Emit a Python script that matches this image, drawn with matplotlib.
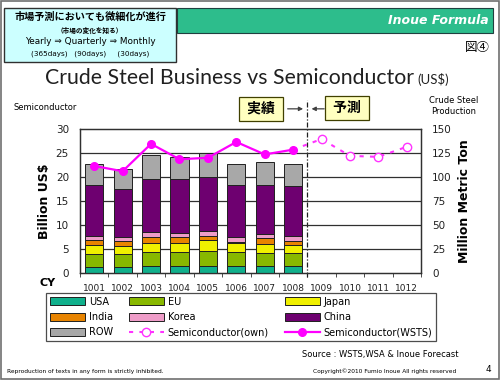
import numpy as np
import matplotlib
matplotlib.use('Agg')
from matplotlib import pyplot as plt
from matplotlib.patches import Rectangle, Patch
from matplotlib.lines import Line2D

plt.rcParams['font.family'] = ['DejaVu Sans', 'Noto Sans CJK JP']

months = ['1001', '1002', '1003', '1004', '1005', '1006',
          '1007', '1008', '1009', '1010', '1011', '1012']

# crude steel production, million metric ton (1001-1008)
usa = [6.3, 6.3, 7.5, 7.5, 7.5, 7.3, 7.2, 7.4]
eu = [13.2, 13.2, 14.5, 14.5, 15.8, 14.7, 13.8, 13.0]
japan = [9.3, 8.5, 9.2, 9.2, 11.0, 9.3, 9.4, 8.8]
india = [6.0, 5.5, 6.8, 6.3, 4.5, 1.2, 5.8, 4.6]
korea = [3.7, 4.0, 5.0, 4.5, 5.0, 4.5, 4.8, 4.9]
china = [53.0, 50.5, 55.0, 56.0, 56.5, 54.5, 51.0, 52.1]
row = [22.5, 20.0, 24.5, 22.5, 25.0, 22.5, 23.5, 22.8]

# semiconductor sales, billion US$
semi_wsts = [22.3, 21.2, 26.9, 23.7, 24.0, 27.3, 24.7, 25.7]
semi_own = [25.7, 27.9, 24.4, 24.2, 26.3]   # 1008 (start) .. 1012

series = [('USA', usa, '#10b08c'), ('EU', eu, '#88b800'),
          ('Japan', japan, '#f0f000'), ('India', india, '#e88400'),
          ('Korea', korea, '#ee9cc8'), ('China', china, '#6e0070'),
          ('ROW', row, '#a8a8a8')]

fig = plt.figure(figsize=(5, 3.8), dpi=100)

# slide decorations
fig.patches.append(Rectangle((0.002, 0.003), 0.995, 0.994, transform=fig.transFigure,
                             fill=False, ec='#707070', lw=1.2))
fig.patches.append(Rectangle((0.354, 1 - 33 / 380), 0.632, 25 / 380, transform=fig.transFigure,
                             fc='#2dbd8c', ec='#204040', lw=0.8))
fig.text(0.978, 1 - 20 / 380, 'Inoue Formula', color='white', fontsize=9,
         fontweight='bold', fontstyle='italic', ha='right', va='center')
fig.patches.append(Rectangle((0.008, 1 - 62 / 380), 0.344, 54 / 380, transform=fig.transFigure,
                             fc='#ccffff', ec='#303030', lw=1.0, zorder=3))
fig.text(0.18, 1 - 17 / 380, '市場予測においても微細化が進行', fontsize=7.3, fontweight='bold',
         ha='center', va='center', family=['Noto Sans CJK JP'], zorder=4)
fig.text(0.18, 1 - 30 / 380, '（市場の変化を知る）', fontsize=4.8, fontweight='bold',
         ha='center', va='center', family=['Noto Sans CJK JP'], zorder=4)
fig.text(0.18, 1 - 42 / 380, 'Yearly ⇒ Quarterly ⇒ Monthly', fontsize=6.4,
         ha='center', va='center', zorder=4)
fig.text(0.18, 1 - 54 / 380, '(365days)   (90days)     (30days)', fontsize=5.2,
         ha='center', va='center', zorder=4)
fig.text(0.955, 1 - 47 / 380, '図④', fontsize=9, ha='center', va='center',
         family=['Noto Sans CJK JP'])
fig.text(0.09, 1 - 78 / 380, 'Crude Steel Business vs Semiconductor', fontsize=15.3,
         ha='left', va='center', color='#202020', family=['Lato'])
fig.text(0.834, 1 - 80 / 380, '(US$)', fontsize=9.5, ha='left', va='center', color='#202020',
         family=['Lato'])

ax = fig.add_axes([0.16, 1 - 273 / 380, 0.682, 144 / 380])
ax2 = ax.twinx()

x = np.arange(len(months))
bottom = np.zeros(len(usa))
for name, vals, col in series:
    ax2.bar(x[:len(vals)], vals, width=0.64, bottom=bottom, color=col,
            edgecolor='#202020', linewidth=0.7, zorder=2)
    bottom += np.array(vals)

ax2.set_ylim(0, 150)
ax2.set_yticks(np.arange(0, 151, 25))
ax.set_ylim(0, 30)
ax.set_yticks(np.arange(0, 31, 5))
ax.set_xlim(-0.5, len(months) - 0.5)
for v in range(5, 30, 5):
    ax2.axhline(v * 5, color='#303030', lw=0.9, zorder=1)

# semiconductor lines drawn on top
ax3 = ax.twinx()
ax3.set_ylim(0, 30)
ax3.axis('off')
ax3.plot(x[7:], semi_own, color='#ff33ff', lw=1.5, ls=(0, (2, 3)), marker='o', ms=6,
         mfc='white', mec='#ff33ff', mew=1.0, markevery=[1, 2, 3, 4], zorder=5)
ax3.plot(x[:len(semi_wsts)], semi_wsts, color='#ff00ff', lw=1.6, marker='o', ms=5.5,
         mfc='#ff00ff', mec='#ff00ff', zorder=6)

for a in (ax, ax2):
    for s in a.spines.values():
        s.set_color('#303030')
        s.set_linewidth(0.9)
ax.set_xticks(x)
ax.set_xticklabels(months, fontsize=6.5, color='#202020')
ax.set_xticks(np.arange(-0.5, len(months), 1), minor=True)
ax.tick_params(axis='x', which='major', length=0, pad=8)
ax.tick_params(axis='x', which='minor', length=3, color='#303030')
ax.tick_params(axis='y', length=0, labelsize=7.5, pad=8, labelcolor='#202020')
ax2.tick_params(axis='y', length=0, labelsize=7.5, pad=8, labelcolor='#202020')
ax.set_ylabel('Billion US$', fontsize=9, fontweight='bold', labelpad=3)
ax2.set_ylabel('Million Metric Ton', fontsize=9, fontweight='bold', labelpad=4)

fig.text(0.028, 1 - 108 / 380, 'Semiconductor', fontsize=6, ha='left', va='center')
fig.text(0.908, 1 - 106 / 380, 'Crude Steel\nProduction', fontsize=6, ha='center',
         va='center', linespacing=1.2)
fig.text(0.096, 1 - 283 / 380, 'CY', fontsize=8, fontweight='bold', ha='center', va='center')

# actual / forecast divider
trans = ax.get_xaxis_transform()
ax.plot([7.5, 7.5], [-0.03, 1.2], transform=trans, color='#202020', lw=0.9,
        ls=(0, (4, 1.5, 1, 1.5)), clip_on=False, zorder=7)
box = dict(boxstyle='square,pad=0.35', fc='#ffffc0', ec='#404000', lw=0.9)
ax.text(5.87, 1.14, ' 実績 ', transform=trans, fontsize=10, fontweight='bold', ha='center',
        va='center', bbox=box, family=['Noto Sans CJK JP'])
ax.text(8.89, 1.145, ' 予測 ', transform=trans, fontsize=10, fontweight='bold', ha='center',
        va='center', bbox=box, family=['Noto Sans CJK JP'])
ax.annotate('', xy=(7.45, 1.14), xytext=(6.71, 1.14), xycoords=trans, textcoords=trans,
            arrowprops=dict(arrowstyle='-|>', color='#404040', lw=0.9, mutation_scale=6),
            annotation_clip=False)
ax.annotate('', xy=(7.55, 1.14), xytext=(8.19, 1.14), xycoords=trans, textcoords=trans,
            arrowprops=dict(arrowstyle='-|>', color='#404040', lw=0.9, mutation_scale=6),
            annotation_clip=False)

# legend (3 rows, filled row-wise)
h = {name: Patch(fc=col, ec='#202020', lw=0.7) for name, vals, col in series}
h_own = Line2D([], [], color='#ff33ff', lw=1.5, ls=(0, (2, 3)), marker='o', ms=6,
               mfc='white', mec='#ff33ff')
h_wsts = Line2D([], [], color='#ff00ff', lw=1.6, marker='o', ms=5.5, mfc='#ff00ff')
order = [('USA', h['USA']), ('India', h['India']), ('ROW', h['ROW']),
         ('EU', h['EU']), ('Korea', h['Korea']), ('Semiconductor(own)', h_own),
         ('Japan', h['Japan']), ('China', h['China']), ('Semiconductor(WSTS)', h_wsts)]
leg = fig.legend([o[1] for o in order], [o[0] for o in order], ncol=3, mode='expand',
                 bbox_to_anchor=(0.082, 1 - 341 / 380, 0.8, 48 / 380), loc='center',
                 fontsize=7, frameon=True, fancybox=False, handlelength=3.6,
                 handleheight=0.9, handletextpad=0.4, labelspacing=0.55,
                 borderpad=0.4, columnspacing=1.0)
leg.get_frame().set_edgecolor('#202020')
leg.get_frame().set_linewidth(0.9)

fig.text(0.916, 1 - 354 / 380, 'Source : WSTS,WSA & Inoue Forecast', fontsize=6,
         ha='right', va='center')
fig.text(0.014, 1 - 371 / 380, 'Reproduction of texts in any form is strictly inhibited.',
         fontsize=4.2, ha='left', va='center')
fig.text(0.912, 1 - 371 / 380, 'Copyright©2010 Fumio Inoue All rights reserved',
         fontsize=4.2, ha='right', va='center')
fig.text(0.976, 1 - 369 / 380, '4', fontsize=6.5, ha='center', va='center')

fig.savefig('out.png', dpi=100)
